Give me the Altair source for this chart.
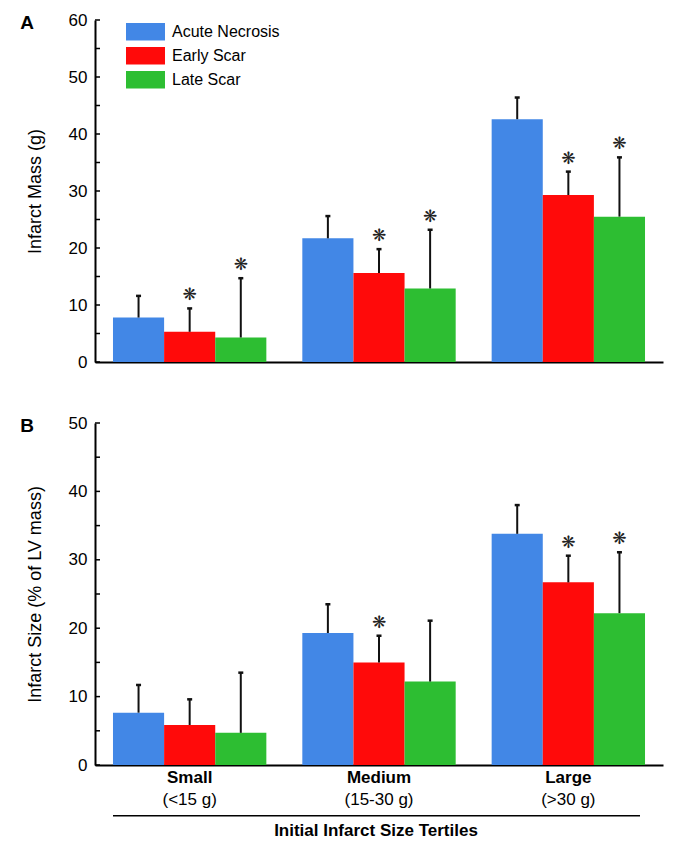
import altair as alt
import pandas as pd

# ---------------- data ----------------
tertiles = ["Small", "Medium", "Large"]
tertile_ranges = ["(<15 g)", "(15-30 g)", "(>30 g)"]
series = ["Acute Necrosis", "Early Scar", "Late Scar"]
colors = ["#4287E6", "#FF0A0A", "#2DBE32"]

# Panel A: infarct mass (g) - mean and top of error bar
mass_acute = [7.8, 21.7, 42.6]
mass_acute_err = [11.6, 25.6, 46.4]
mass_early = [5.3, 15.6, 29.3]
mass_early_err = [9.4, 19.8, 33.4]
mass_late = [4.3, 12.9, 25.5]
mass_late_err = [14.7, 23.2, 35.9]
mass_sig_acute = [False, False, False]
mass_sig_early = [True, True, True]
mass_sig_late = [True, True, True]

# Panel B: infarct size (% of LV mass)
size_acute = [7.65, 19.3, 33.8]
size_acute_err = [11.7, 23.5, 38.0]
size_early = [5.85, 15.0, 26.7]
size_early_err = [9.6, 18.9, 30.6]
size_late = [4.7, 12.2, 22.2]
size_late_err = [13.5, 21.1, 31.1]
size_sig_acute = [False, False, False]
size_sig_early = [False, True, True]
size_sig_late = [False, False, True]

mass_labels = [0, 10, 20, 30, 40, 50, 60]
mass_ticks = [0, 5, 10, 15, 20, 25, 30, 35, 40, 45, 50, 55, 60]
size_labels = [0, 10, 20, 30, 40, 50]
size_ticks = [0, 5, 10, 15, 20, 25, 30, 35, 40, 45, 50]

FONT = "Liberation Sans"


def build_df(vals, errs, sigs):
    rows = []
    for s, v, e, g in zip(series, vals, errs, sigs):
        for t, vv, ee, gg in zip(tertiles, v, e, g):
            rows.append({"tertile": t, "series": s, "value": vv, "err": ee, "sig": gg})
    return pd.DataFrame(rows)


df_a = build_df([mass_acute, mass_early, mass_late],
                [mass_acute_err, mass_early_err, mass_late_err],
                [mass_sig_acute, mass_sig_early, mass_sig_late])
df_b = build_df([size_acute, size_early, size_late],
                [size_acute_err, size_early_err, size_late_err],
                [size_sig_acute, size_sig_early, size_sig_late])

W = 568
H = 342


def panel(df, ymax, label_values, tick_values, ytitle, letter, legend, bottom):
    x = alt.X("tertile:N", sort=tertiles,
              scale=alt.Scale(paddingInner=0.19, paddingOuter=0.095),
              axis=alt.Axis(title=None, labels=False, ticks=False, domain=True,
                            domainColor="black", domainWidth=2))
    y = alt.Y("value:Q", scale=alt.Scale(domain=[0, ymax], nice=False, zero=True),
              axis=alt.Axis(values=label_values, title=ytitle, ticks=False, grid=False,
                            labelPadding=8, titlePadding=24, domainColor="black",
                            domainWidth=2, labelFont=FONT, labelFontSize=17,
                            labelColor="black", titleFont=FONT, titleFontSize=18,
                            titleFontWeight="normal", titleColor="black"))
    xo = alt.XOffset("series:N", sort=series,
                     scale=alt.Scale(paddingInner=0, paddingOuter=0))
    color = alt.Color("series:N", sort=series,
                      scale=alt.Scale(domain=series, range=colors),
                      legend=legend)
    base = alt.Chart(df)
    bars = base.mark_bar(opacity=1).encode(x=x, xOffset=xo, y=y, color=color)
    err = base.mark_rule(strokeWidth=2, color="#111111").encode(
        x=x, xOffset=xo, y="value:Q", y2="err:Q")
    caps = base.mark_tick(size=5, thickness=2.5, color="#111111", opacity=1).encode(
        x=x, xOffset=xo, y="err:Q")
    stars = base.transform_filter("datum.sig").mark_text(
        text="\u274B", dy=-13, fontSize=17, font="DejaVu Sans", color="#222222",
        baseline="middle").encode(x=x, xOffset=xo, y="err:Q")
    ticks = alt.Chart(pd.DataFrame({"t": tick_values})).mark_rule(
        strokeWidth=1.5, color="black").encode(
        y="t:Q", x=alt.value(0), x2=alt.value(5))
    let = alt.Chart(pd.DataFrame({"letter": [letter]})).mark_text(
        fontSize=19, fontWeight="bold", font=FONT, align="center",
        baseline="middle", color="black").encode(
        x=alt.value(-68), y=alt.value(3), text="letter:N")
    layers = [bars, err, caps, stars, ticks, let]
    if bottom:
        cat_df = pd.DataFrame({"tertile": tertiles, "range": tertile_ranges})
        l1 = alt.Chart(cat_df).mark_text(fontSize=17, fontWeight="bold", font=FONT,
                                         baseline="middle", color="black").encode(
            x=alt.X("tertile:N", sort=tertiles), y=alt.value(355), text="tertile:N")
        l2 = alt.Chart(cat_df).mark_text(fontSize=17, font=FONT,
                                         baseline="middle", color="black").encode(
            x=alt.X("tertile:N", sort=tertiles), y=alt.value(377), text="range:N")
        line = alt.Chart(pd.DataFrame({"a": [0]})).mark_rule(
            strokeWidth=1.5, color="black").encode(
            x=alt.value(18), x2=alt.value(545), y=alt.value(392.7))
        ttl = alt.Chart(pd.DataFrame({"t": ["Initial Infarct Size Tertiles"]})).mark_text(
            fontSize=17, fontWeight="bold", font=FONT, baseline="middle",
            align="center", color="black").encode(
            x=alt.value(281), y=alt.value(408), text="t:N")
        layers += [l1, l2, line, ttl]
    return alt.layer(*layers).properties(width=W, height=H)


legend_a = alt.Legend(orient="none", legendX=40.5, legendY=1.7, title=None,
                      symbolType="M-2,-0.9H2V0.9H-2Z", symbolSize=380,
                      symbolStrokeWidth=0, symbolOpacity=1, labelFontSize=16,
                      labelFont=FONT, labelColor="black", labelOffset=16.5,
                      rowPadding=5, padding=0)

pa = panel(df_a, 60, mass_labels, mass_ticks, "Infarct Mass (g)", "A", legend_a, False)
pb = panel(df_b, 50, size_labels, size_ticks, "Infarct Size (% of LV mass)", "B", None, True)

chart = alt.vconcat(pa, pb, spacing=44).resolve_scale(color="independent").properties(
    padding={"left": 12, "top": 3, "right": 5, "bottom": 5}
).configure(background="white").configure_view(stroke=None)

chart.save("out.html", embed_options={"renderer": "svg", "actions": False})
